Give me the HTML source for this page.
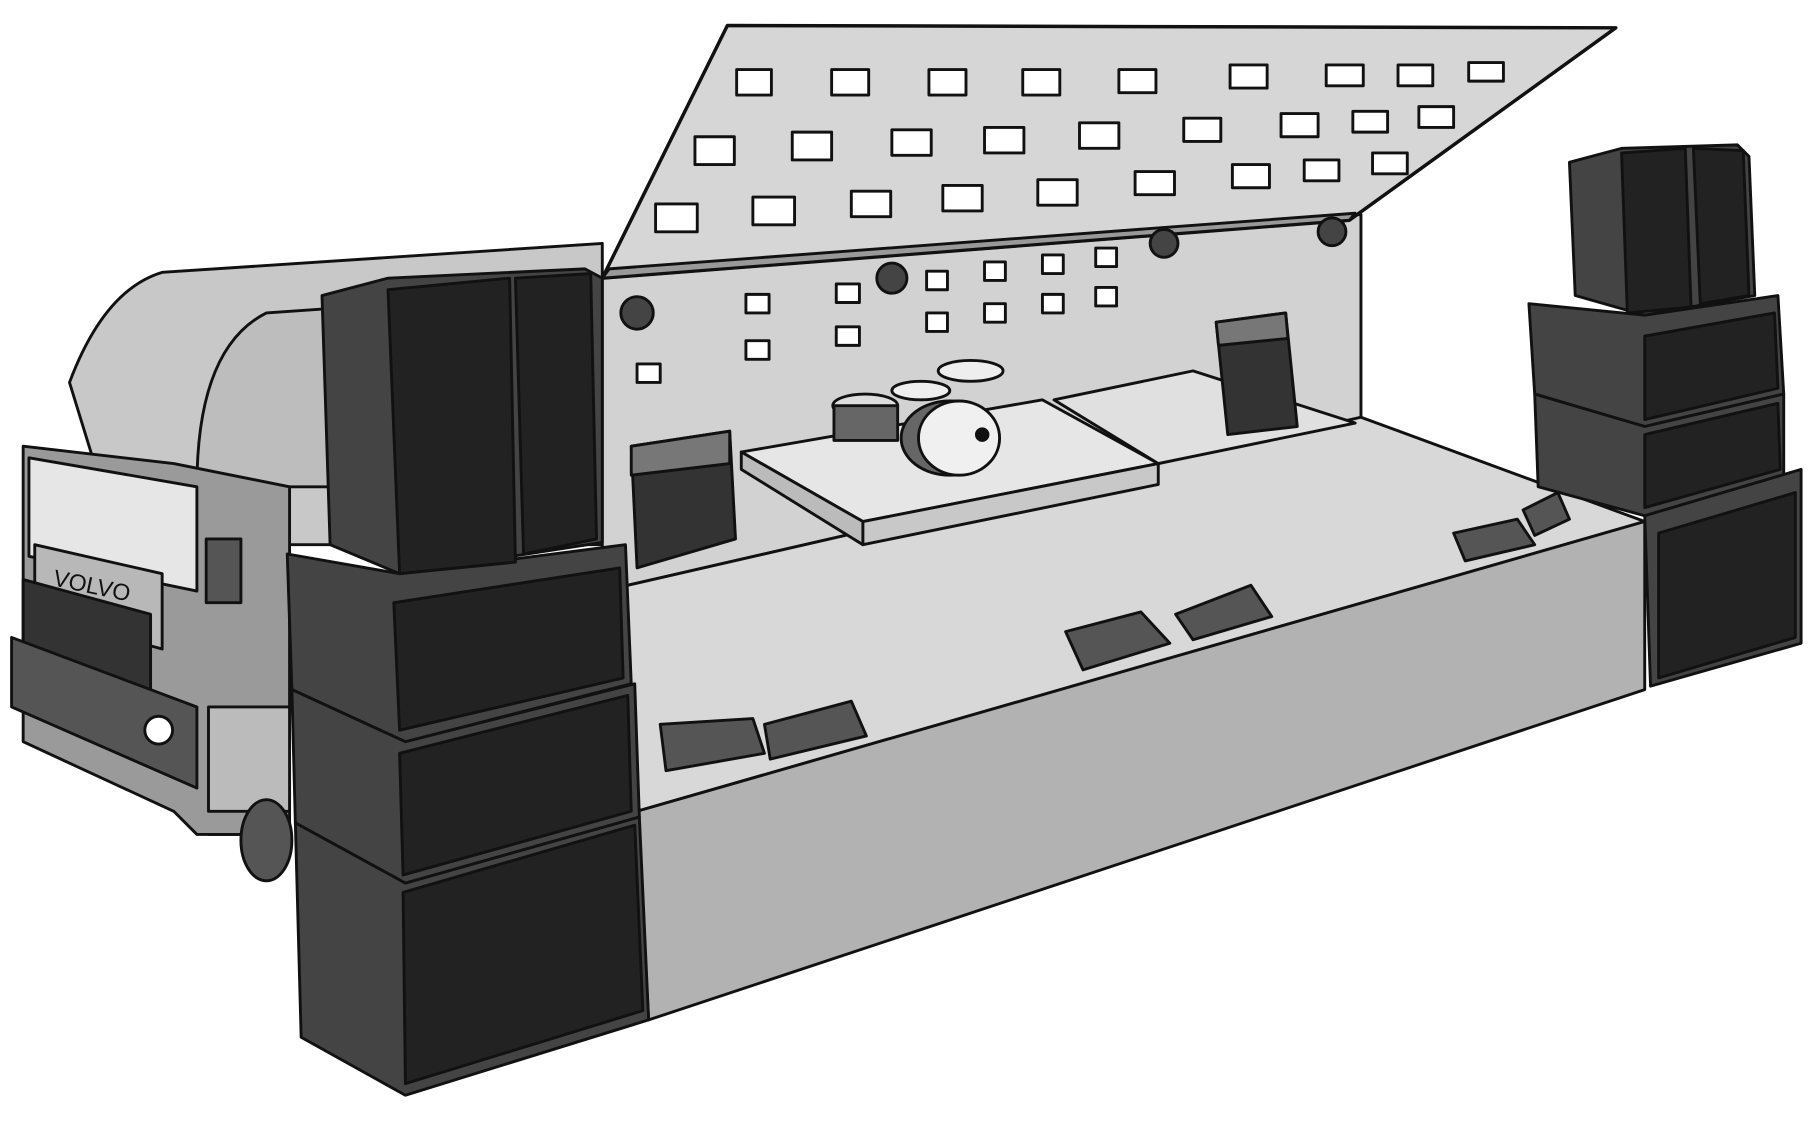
<!DOCTYPE html>
<html><head><meta charset="utf-8"><style>
html,body{margin:0;padding:0;background:#fff;}
svg{display:block;}
</style></head><body>
<svg width="1815" height="1130" viewBox="0 0 1567 975" preserveAspectRatio="none" xmlns="http://www.w3.org/2000/svg" stroke="#111" stroke-width="2.5" stroke-linejoin="round">
<rect x="0" y="0" width="1567" height="975" fill="#fff" stroke="none"/>
<!-- truck body behind -->
<path d="M60,330 Q90,250 140,235 L520,210 L520,470 L250,470 L250,720 L180,720 Z" fill="#c8c8c8"/>
<path d="M170,420 Q170,300 230,270 L520,250 L520,420 Z" fill="#bdbdbd"/>
<!-- cab -->
<path d="M20,385 L150,400 L250,420 L250,720 L170,720 L150,700 L20,640 Z" fill="#9a9a9a"/>
<path d="M25,395 L170,420 L170,510 L25,480 Z" fill="#e6e6e6"/>
<path d="M30,470 L140,495 L140,560 L30,530 Z" fill="#b8b8b8"/>
<text x="45" y="505" font-family="Liberation Sans, sans-serif" font-size="20" fill="#111" stroke="none" transform="rotate(12 45 505)">VOLVO</text>
<path d="M20,500 L130,530 L130,620 L20,590 Z" fill="#333"/>
<path d="M10,550 L170,610 L170,680 L10,610 Z" fill="#555"/>
<circle cx="137" cy="630" r="12" fill="#fff"/>
<rect x="178" y="465" width="30" height="55" fill="#555"/>
<rect x="180" y="610" width="70" height="90" fill="#bbb"/>
<ellipse cx="230" cy="725" rx="22" ry="35" fill="#555"/>
<!-- back wall -->
<path d="M520,240 L1175,185 L1175,360 L520,510 Z" fill="#d2d2d2"/>
<!-- stage top -->
<path d="M520,510 L1175,360 L1420,450 L550,700 Z" fill="#d8d8d8"/>
<!-- stage front -->
<path d="M550,700 L1420,450 L1420,595 L560,880 Z" fill="#b2b2b2"/>
<!-- drum riser -->
<path d="M640,390 L900,345 L1000,400 L745,450 Z" fill="#e6e6e6"/>
<path d="M640,390 L745,450 L745,470 L640,405 Z" fill="#bbb"/>
<path d="M745,450 L1000,400 L1000,418 L745,470 Z" fill="#c8c8c8"/>
<path d="M910,345 L1030,320 L1170,365 L1000,400 Z" fill="#e0e0e0"/>
<!-- drums -->
<ellipse cx="747" cy="350" rx="28" ry="10" fill="#ddd"/>
<rect x="720" y="350" width="55" height="30" fill="#666"/>
<ellipse cx="795" cy="337" rx="25" ry="8" fill="#eee"/>
<ellipse cx="838" cy="320" rx="28" ry="9" fill="#eee"/>
<ellipse cx="820" cy="378" rx="42" ry="32" fill="#666"/>
<ellipse cx="828" cy="378" rx="35" ry="32" fill="#f0f0f0"/>
<circle cx="848" cy="375" r="5" fill="#111"/>
<!-- amps -->
<path d="M545,385 L630,372 L635,465 L550,490 Z" fill="#333"/>
<path d="M545,385 L630,372 L630,400 L545,410 Z" fill="#777"/>
<path d="M1050,278 L1110,270 L1120,368 L1060,375 Z" fill="#333"/>
<path d="M1050,278 L1110,270 L1112,292 L1052,298 Z" fill="#777"/>
<!-- roof -->
<path d="M628,22 L1395,24 L1165,190 L520,240 Z" fill="#d6d6d6" stroke-width="3"/>
<path d="M520,240 L1165,190 L1170,184 L526,232 Z" fill="#999"/>
<g fill="#fff">
<rect x="636" y="60" width="30" height="22"/><rect x="718" y="60" width="32" height="22"/><rect x="802" y="60" width="32" height="22"/><rect x="883" y="60" width="32" height="22"/><rect x="966" y="60" width="32" height="20"/><rect x="1062" y="56" width="32" height="20"/><rect x="1145" y="56" width="32" height="18"/><rect x="1207" y="56" width="30" height="18"/><rect x="1268" y="54" width="30" height="16"/>
<rect x="600" y="118" width="34" height="24"/><rect x="684" y="114" width="34" height="24"/><rect x="770" y="112" width="34" height="22"/><rect x="850" y="110" width="34" height="22"/><rect x="932" y="106" width="34" height="22"/><rect x="1022" y="102" width="32" height="20"/><rect x="1106" y="98" width="32" height="20"/><rect x="1168" y="96" width="30" height="18"/><rect x="1225" y="92" width="30" height="18"/>
<rect x="566" y="176" width="36" height="24"/><rect x="650" y="170" width="36" height="24"/><rect x="735" y="165" width="34" height="22"/><rect x="814" y="160" width="34" height="22"/><rect x="896" y="155" width="34" height="22"/><rect x="980" y="148" width="34" height="20"/><rect x="1064" y="142" width="32" height="20"/><rect x="1126" y="138" width="30" height="18"/><rect x="1185" y="132" width="30" height="18"/>
<rect x="644" y="254" width="20" height="16"/><rect x="722" y="245" width="20" height="16"/><rect x="800" y="234" width="18" height="16"/><rect x="850" y="226" width="18" height="16"/><rect x="900" y="220" width="18" height="16"/><rect x="946" y="214" width="18" height="16"/>
<rect x="644" y="294" width="20" height="16"/><rect x="722" y="282" width="20" height="16"/><rect x="800" y="270" width="18" height="16"/><rect x="850" y="262" width="18" height="16"/><rect x="900" y="254" width="18" height="16"/><rect x="946" y="248" width="18" height="16"/>
<rect x="550" y="314" width="20" height="16"/>
</g>
<!-- lamps -->
<g fill="#444"><circle cx="550" cy="270" r="14"/><circle cx="770" cy="240" r="13"/><circle cx="1005" cy="210" r="12"/><circle cx="1150" cy="200" r="12"/></g>
<!-- monitors -->
<g fill="#555">
<path d="M570,625 L650,620 L660,650 L575,665 Z"/><path d="M660,625 L735,605 L748,635 L665,655 Z"/>
<path d="M920,545 L985,528 L1010,555 L935,578 Z"/><path d="M1015,530 L1080,505 L1098,532 L1030,552 Z"/>
<path d="M1255,460 L1310,448 L1325,470 L1265,484 Z"/><path d="M1315,440 L1345,425 L1355,448 L1325,462 Z"/>
</g>
<!-- left stack -->
<g fill="#444">
<path d="M278,255 L335,240 L505,232 L520,240 L520,468 L345,495 L285,470 Z"/>
<path d="M248,478 L345,495 L540,470 L545,590 L350,640 L252,595 Z"/>
<path d="M252,595 L350,640 L548,590 L552,705 L350,762 L255,710 Z"/>
<path d="M255,710 L350,762 L552,705 L560,880 L350,945 L260,895 Z"/>
</g>
<g fill="#222">
<path d="M335,250 L440,240 L445,485 L345,495 Z"/><path d="M445,240 L510,236 L515,465 L452,478 Z"/>
<path d="M340,520 L535,490 L538,585 L345,630 Z"/><path d="M345,650 L542,600 L545,700 L348,755 Z"/><path d="M348,770 L548,712 L555,872 L350,935 Z"/>
</g>
<!-- right stack -->
<g fill="#444">
<path d="M1355,140 L1400,128 L1500,125 L1510,135 L1515,255 L1420,272 L1360,255 Z"/>
<path d="M1320,262 L1420,272 L1535,255 L1540,340 L1420,368 L1325,340 Z"/>
<path d="M1325,340 L1420,368 L1540,340 L1540,410 L1420,445 L1328,420 Z"/>
<path d="M1420,445 L1555,405 L1555,555 L1425,592 Z"/>
</g>
<g fill="#222">
<path d="M1400,132 L1455,128 L1460,265 L1405,270 Z"/><path d="M1462,128 L1505,130 L1510,255 L1468,262 Z"/>
<path d="M1420,290 L1532,270 L1535,335 L1420,362 Z"/><path d="M1420,375 L1535,348 L1537,405 L1420,438 Z"/><path d="M1432,460 L1550,425 L1550,550 L1432,585 Z"/>
</g>
</svg>
</body></html>
